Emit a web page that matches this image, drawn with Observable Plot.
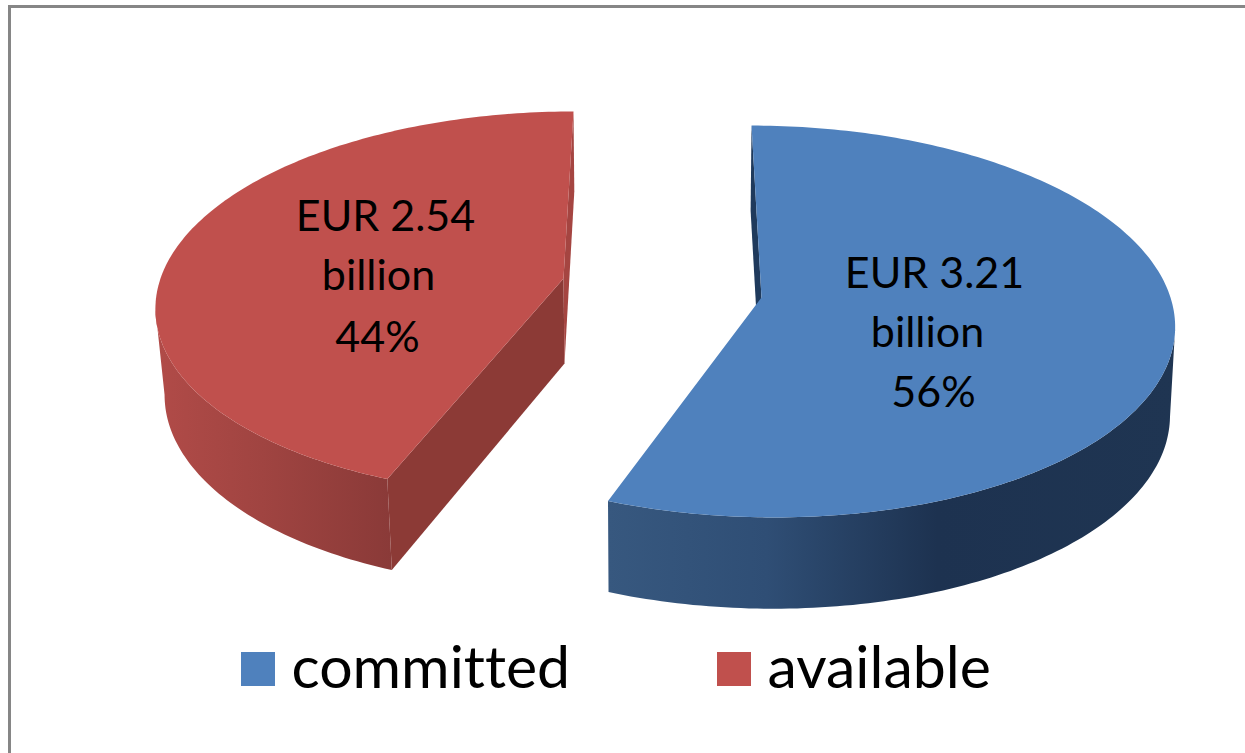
<!DOCTYPE html>
<html>
<head>
<meta charset="utf-8">
<script src="https://cdn.jsdelivr.net/npm/d3@7"></script>
<script src="https://cdn.jsdelivr.net/npm/@observablehq/plot@0.6"></script>
<style>
  html, body { margin: 0; padding: 0; background: #fff; overflow: hidden; }
  #frame { position: absolute; left: 8px; top: 5px; right: -10px; bottom: -10px;
           border-top: 3px solid #868686; border-left: 3px solid #868686; box-sizing: border-box; }
  #chart { position: absolute; left: 0; top: 0; }
  #chart svg { display: block; background: transparent; }
</style>
</head>
<body>
<div id="frame"></div>
<div id="chart"></div>
<script>
// ---- data ----
const categories = ["committed", "available"];
const amounts = [3.21, 2.54];
const amountTexts = ["EUR 3.21", "EUR 2.54"];
const unitTexts = ["billion", "billion"];
const percents = ["56%", "44%"];

// ---- styling / pictorial layout of the exploded 3-D pie ----
const topColors = ["#4F81BD", "#C0504D"];
const view = [
  { ax: 761, ay: 297, sx: 409, sy: 193, k: 0.1225, c: -11.2,
    lx: 760, ly: 385, xs: 0.99, ys: 1.015,
    grad: "url(#wallBlue)", near: "#1F3552", far: "#1F3A5C",
    lines: [[934, 274], [927, 333], [933, 393]] },
  { ax: 563, ay: 278, sx: 403, sy: 188.7, k: 0.13, c: 11.3,
    lx: 564, ly: 363, xs: 0.98, ys: 1.03,
    grad: "url(#wallRed)", near: "#8C3A36", far: "#A54541",
    lines: [[385, 217], [378, 276], [377, 338]] }
];
const legendX = [241, 717], legendY = 652, legendSize = 34;

// ---- geometry computed from the values ----
const total = d3.sum(amounts);
const starts = [0, amounts[0] / total * 360];
const ends = [amounts[0] / total * 360, 360];

function topPoint(v, deg) {
  const a = deg * Math.PI / 180, s = Math.sin(a), c = Math.cos(a), w = 1 + v.k * c;
  return [v.ax + (v.sx * s + v.c * c) / w, v.ay - v.sy * c / w];
}
function lowPoint(v, deg) {
  const [x, y] = topPoint(v, deg);
  return [v.lx + (x - v.ax) * v.xs, v.ly + (y - v.ay) * v.ys];
}
const apexTop = v => [v.ax, v.ay];
const apexLow = v => [v.lx, v.ly];
const range = (a, b) => d3.range(a, b, 1).concat([b]);

// The outer wall of a slice ends where its rim turns round (its silhouette).
const rightmost = v => d3.greatest(range(starts[0], ends[0]), d => topPoint(v, d)[0]);
const leftmost = v => d3.least(range(starts[1], ends[1]), d => topPoint(v, d)[0]);

const polys = [];
function poly(name, fill, pts) { polys.push({ name, fill, pts }); }

view.forEach((v, i) => {
  const a0 = starts[i], a1 = ends[i];
  const w0 = i === 0 ? rightmost(v) : a0;
  const w1 = i === 0 ? a1 : leftmost(v);
  // outer wall
  poly("wall" + i, v.grad, [...range(w0, w1).map(d => topPoint(v, d)),
                            ...range(w0, w1).reverse().map(d => lowPoint(v, d))]);
  // cut faces
  if (i === 0) {
    poly("far0", v.far, [topPoint(v, a0), lowPoint(v, a0), apexLow(v), apexTop(v)]);
  } else {
    poly("near1", v.near, [topPoint(v, a0), lowPoint(v, a0), apexLow(v), apexTop(v)]);
    poly("far1", v.far, [topPoint(v, a1), lowPoint(v, a1), apexLow(v), apexTop(v)]);
  }
  // top surface
  poly("top" + i, topColors[i], [apexTop(v), ...range(a0, a1).map(d => topPoint(v, d))]);
});

const polyMarks = polys.map(p => Plot.line(p.pts, {
  x: d => d[0], y: d => d[1], fill: p.fill, stroke: "none", curve: "linear-closed"
}));

const legendRows = categories.map((name, i) => ({ name, i }));
const labelRows = [amountTexts, unitTexts, percents].flatMap((texts, line) =>
  texts.map((text, i) => ({ text, at: view[i].lines[line] })));

const gradients = () => {
  const ns = "http://www.w3.org/2000/svg";
  const defs = document.createElementNS(ns, "defs");
  const make = (id, stops) => {
    const g = document.createElementNS(ns, "linearGradient");
    g.setAttribute("id", id);
    stops.forEach(([o, c]) => {
      const s = document.createElementNS(ns, "stop");
      s.setAttribute("offset", o);
      s.setAttribute("stop-color", c);
      g.appendChild(s);
    });
    defs.appendChild(g);
  };
  make("wallBlue", [[0, "#37587F"], [0.28, "#2F4E75"], [0.58, "#1D3250"], [1, "#1F3552"]]);
  make("wallRed", [[0, "#B14B48"], [0.45, "#A04441"], [1, "#8A3A38"]]);
  return defs;
};

const chart = Plot.plot({
  width: 1245, height: 753, margin: 0,
  style: { fontVariantLigatures: "none" },
  x: { domain: [0, 1245], range: [0, 1245], axis: null },
  y: { domain: [0, 753], range: [0, 753], axis: null },
  marks: [
    gradients,
    ...polyMarks,
    Plot.text(labelRows, {
      x: d => d.at[0], y: d => d.at[1], text: "text",
      fontFamily: "Lato", fontSize: 43, fill: "#000", textAnchor: "middle"
    }),
    Plot.rect(legendRows, {
      x1: d => legendX[d.i], x2: d => legendX[d.i] + legendSize,
      y1: legendY, y2: legendY + legendSize, fill: d => topColors[d.i]
    }),
    Plot.text(legendRows, {
      x: d => legendX[d.i] + legendSize + 16, y: legendY + 17, text: "name",
      textAnchor: "start", fontFamily: "Lato", fontSize: 59, fill: "#000"
    })
  ]
});
document.getElementById("chart").appendChild(chart);
</script>
</body>
</html>
